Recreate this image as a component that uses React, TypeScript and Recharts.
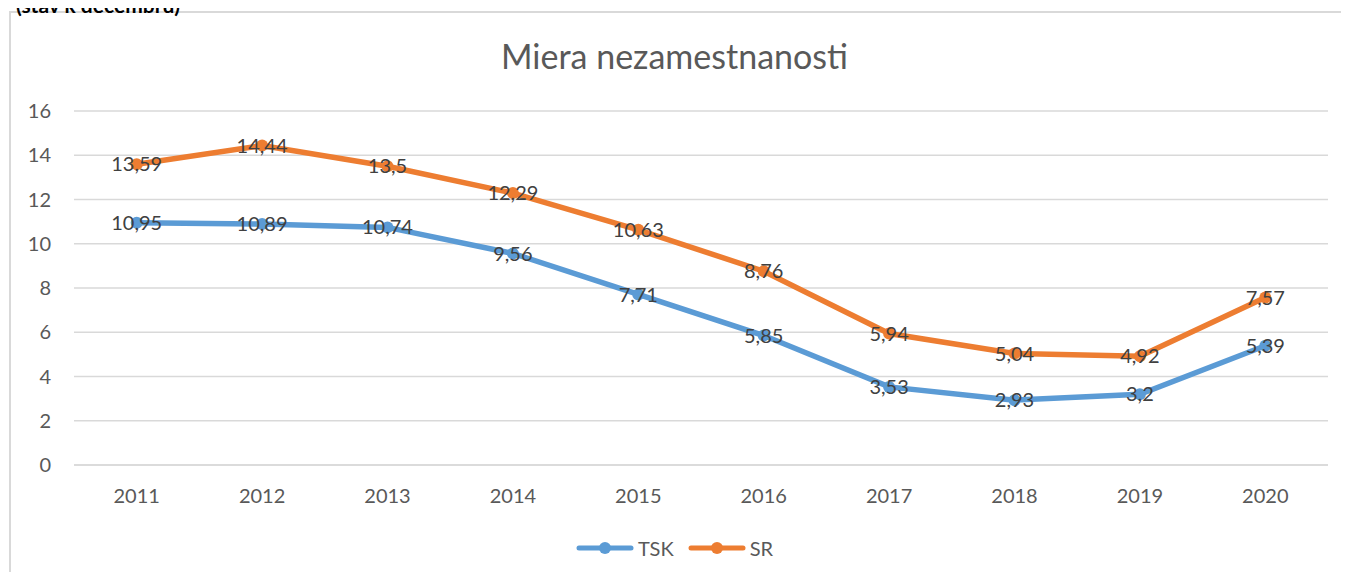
import { LineChart, Line, XAxis, YAxis, CartesianGrid, LabelList } from "recharts";

const years = ["2011", "2012", "2013", "2014", "2015", "2016", "2017", "2018", "2019", "2020"];
const tsk = [10.95, 10.89, 10.74, 9.56, 7.71, 5.85, 3.53, 2.93, 3.2, 5.39];
const sr = [13.59, 14.44, 13.5, 12.29, 10.63, 8.76, 5.94, 5.04, 4.92, 7.57];
const yTicks = [0, 2, 4, 6, 8, 10, 12, 14, 16];

const BLUE = "#5b9bd5";
const ORANGE = "#ed7d31";
const FONT = "Lato, 'Open Sans', sans-serif";

const data = years.map((year, i) => ({ year, TSK: tsk[i], SR: sr[i] }));

const fmt = (v: any) => String(v).replace(".", ",");

function LegendItem({ color, label }: { color: string; label: string }) {
  return (
    <div style={{ display: "flex", alignItems: "center", gap: 4 }}>
      <svg width={58} height={14}>
        <line x1={3} y1={7} x2={55} y2={7} stroke={color} strokeWidth={5} strokeLinecap="round" />
        <circle cx={29} cy={7} r={6} fill={color} />
      </svg>
      <span>{label}</span>
    </div>
  );
}

export default function App() {
  return (
    <div style={{ position: "relative", width: 1349, height: 580, margin: -8, overflow: "hidden", background: "#fff", fontFamily: FONT }}>
      <div style={{ position: "absolute", left: 9, top: 11, width: 1400, height: 600, border: "2px solid #d9d9d9" }} />
      <div style={{ position: "absolute", left: 0, width: 1349, top: 34, textAlign: "center", fontSize: 34, lineHeight: "44px", color: "#595959" }}>
        Miera nezamestnanosti
      </div>
      <div style={{ position: "absolute", left: 0, top: 0 }}>
        <LineChart width={1349} height={580} data={data} margin={{ top: 111, right: 21, left: 14, bottom: 55 }}>
          <CartesianGrid vertical={false} stroke="#d9d9d9" strokeWidth={1.5} />
          <XAxis
            dataKey="year"
            padding={{ left: 62.7, right: 62.7 }}
            axisLine={{ stroke: "#d9d9d9", strokeWidth: 1.5 }}
            tickLine={false}
            tickSize={0}
            tickMargin={24}
            height={60}
            tick={{ fill: "#595959", fontSize: 20, fontFamily: FONT }}
          />
          <YAxis
            domain={[0, 16]}
            ticks={yTicks}
            width={60}
            axisLine={false}
            tickLine={false}
            tickSize={0}
            tickMargin={23}
            tick={{ fill: "#595959", fontSize: 20, fontFamily: FONT }}
          />
          <Line
            dataKey="TSK"
            stroke={BLUE}
            strokeWidth={5.5}
            dot={{ r: 6, fill: BLUE, stroke: BLUE, strokeWidth: 0 }}
            isAnimationActive={false}
          >
            <LabelList dataKey="TSK" position="center" formatter={fmt} fill="#404040" fontSize={20} fontFamily={FONT} />
          </Line>
          <Line
            dataKey="SR"
            stroke={ORANGE}
            strokeWidth={5.5}
            dot={{ r: 6, fill: ORANGE, stroke: ORANGE, strokeWidth: 0 }}
            isAnimationActive={false}
          >
            <LabelList dataKey="SR" position="center" formatter={fmt} fill="#404040" fontSize={20} fontFamily={FONT} />
          </Line>
        </LineChart>
      </div>
      <div style={{ position: "absolute", left: 0, width: 1349, top: 536, display: "flex", justifyContent: "center", gap: 14, fontSize: 20, color: "#595959" }}>
        <LegendItem color={BLUE} label="TSK" />
        <LegendItem color={ORANGE} label="SR" />
      </div>
      <div style={{ position: "absolute", left: 16, top: -8, zIndex: 2, fontWeight: 700, fontSize: 21, lineHeight: "26px", color: "#000", whiteSpace: "nowrap" }}>
        (stav k decembru)
      </div>
    </div>
  );
}
